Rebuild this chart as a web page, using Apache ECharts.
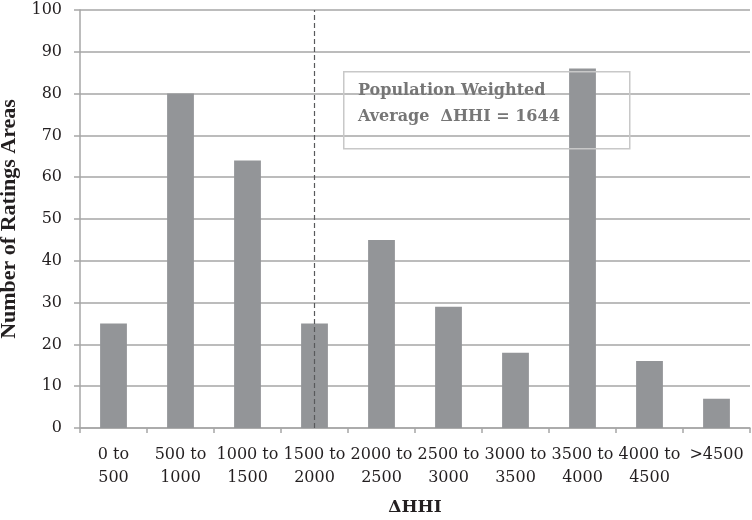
<!DOCTYPE html>
<html>
<head>
<meta charset="utf-8">
<script src="https://cdn.jsdelivr.net/npm/echarts@6/dist/echarts.min.js"></script>
<style>html,body{margin:0;padding:0;background:#fff}#c{width:752px;height:520px}</style>
</head>
<body>
<div id="c"></div>
<script>
const categories = ['0 to\n500','500 to\n1000','1000 to\n1500','1500 to\n2000','2000 to\n2500','2500 to\n3000','3000 to\n3500','3500 to\n4000','4000 to\n4500','>4500'];
const counts = [25, 80, 64, 25, 45, 29, 18, 86, 16, 7];
const averageCategory = '1500 to\n2000';
const annotationLines = ['Population Weighted', 'Average  \u0394HHI = 1644'];
const yTicks = {min: 0, max: 100, interval: 10};

const font = '"DejaVu Serif", serif';
const nameFont = '"Liberation Serif", "Times New Roman", serif';
const chart = echarts.init(document.getElementById('c'));
chart.setOption({
  animation: false,
  backgroundColor: '#fff',
  grid: {left: 80, right: 2, top: 10, bottom: 92, containLabel: false, outerBoundsMode: 'none'},
  xAxis: {
    type: 'category',
    data: categories,
    name: '\u0394HHI',
    nameLocation: 'middle',
    nameGap: 71,
    nameTextStyle: {fontFamily: font, fontWeight: 'bold', fontSize: 17, color: '#231f20'},
    axisLine: {lineStyle: {color: '#a6a6a6', width: 1.5}},
    axisTick: {show: true, length: 5, lineStyle: {color: '#a6a6a6', width: 1.5}},
    axisLabel: {fontFamily: font, fontSize: 16, color: '#231f20', interval: 0, margin: 15, lineHeight: 23}
  },
  yAxis: {
    type: 'value',
    min: yTicks.min, max: yTicks.max, interval: yTicks.interval,
    name: 'Number of Ratings Areas',
    nameLocation: 'middle',
    nameGap: 51,
    nameTextStyle: {fontFamily: nameFont, fontWeight: 'bold', fontSize: 22, color: '#231f20'},
    axisLine: {show: true, lineStyle: {color: '#a6a6a6', width: 1.5}},
    axisTick: {show: true, length: 6, lineStyle: {color: '#a6a6a6', width: 1.5}},
    axisLabel: {fontFamily: font, fontSize: 16, color: '#231f20', margin: 18},
    splitLine: {lineStyle: {color: '#a6a6a6', width: 1.5}}
  },
  series: [{
    type: 'bar',
    data: counts,
    barWidth: '40%',
    itemStyle: {color: '#939598'},
    markLine: {
      silent: true,
      symbol: 'none',
      label: {show: false},
      lineStyle: {color: '#58595b', type: [5, 3], width: 1.2},
      data: [{xAxis: averageCategory}]
    },
    z: 3
  }],
  graphic: [
    {type: 'rect', left: 343, top: 71, z: 10,
     shape: {width: 286, height: 77},
     style: {fill: 'rgba(255,255,255,0)', stroke: '#c8c8c8', lineWidth: 1.5}},
    {type: 'text', left: 358, top: 78, z: 11,
     style: {text: annotationLines.join('\n'), fontFamily: font, fontWeight: 'bold', fontSize: 16, lineHeight: 26, fill: '#767676'}}
  ]
});
</script>
</body>
</html>
